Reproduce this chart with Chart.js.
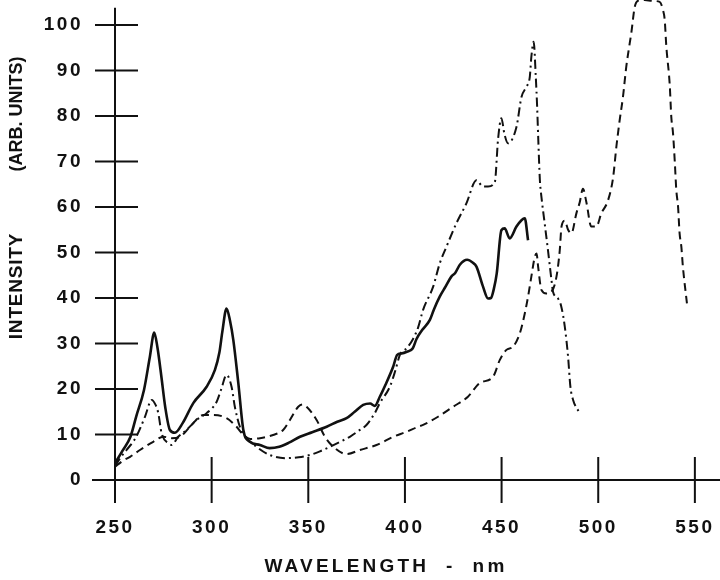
<!DOCTYPE html>
<html>
<head>
<meta charset="utf-8">
<script src="https://cdn.jsdelivr.net/npm/chart.js@4"></script>
<style>
  html, body { margin: 0; padding: 0; background: #fff; }
  #wrap { width: 720px; height: 580px; position: relative; }
</style>
</head>
<body>
<div id="wrap"><canvas id="spectra"></canvas></div>
<script>
// wavelength (nm) / intensity pairs
const solidNm = [250, 254, 258, 261, 265, 268, 270.3, 272, 274, 276, 278.4, 281, 285, 290.5, 297.4, 301.7, 304, 305.5, 307.7, 309.5, 311.2, 313.8, 316.4, 319.8, 325, 330, 335, 340, 345.7, 352, 359.5, 365, 369.8, 374, 378.4, 382, 384.4, 387, 390, 393.9, 396, 398.2, 401, 404, 406, 409, 412.9, 415, 418, 421, 424, 426, 428.4, 432.2, 435, 437, 440.4, 443, 444.5, 446, 447.5, 449.9, 451.6, 454.2, 457.7, 460.3, 462, 463.7];
const solidInt = [3.7, 6.5, 9.5, 14, 19.8, 27, 32.4, 29, 22.7, 16, 11, 10.4, 12.5, 16.9, 20.5, 24.2, 28, 32.5, 37.7, 35, 30.8, 21.3, 11, 8.4, 7.7, 7, 7.3, 8.2, 9.5, 10.5, 11.7, 12.8, 13.6, 15, 16.5, 16.8, 16.3, 18.3, 21, 24.9, 27.5, 27.8, 28.2, 28.9, 31, 33, 35.2, 37.5, 40.3, 42.5, 44.7, 45.5, 47.3, 48.4, 47.8, 46.9, 42.5, 39.9, 40, 42, 45.4, 54.9, 55.3, 53.1, 55.7, 57.1, 57.5, 52.7];

const dashDotNm = [250, 253, 256, 261, 265.5, 269, 271, 272.4, 274.1, 277.6, 279.3, 282.7, 287, 292.2, 297.4, 302.6, 305, 307.7, 310.3, 312, 314.6, 318.1, 323.2, 330, 338.8, 345, 350.8, 356, 361.2, 366, 371.5, 376, 380.1, 384.4, 387, 392.2, 395, 397.4, 401, 404.2, 406.8, 409.4, 414.6, 418, 421.5, 426.6, 431.8, 437, 440.4, 443, 446.5, 448.2, 449.9, 451.5, 453.3, 457.7, 460.3, 462.8, 464.6, 465.4, 466.6, 467.7, 468.4, 469, 469.8, 470.6, 472.3, 474, 475.8, 476.6, 479.2, 480.9, 482.7, 484.4, 485.6, 487, 490.4];
const dashDotInt = [3, 5, 6.6, 9.5, 13.9, 17.6, 16.5, 14.7, 10.3, 8.1, 7.7, 9.5, 11, 13.2, 14.7, 17.2, 20, 23.1, 20.5, 16.1, 11.7, 9.2, 7.3, 5.5, 4.8, 5, 5.5, 6.3, 7.3, 8.3, 9.5, 10.8, 12.1, 14.7, 16.9, 20.5, 24, 27.5, 29, 31, 33.5, 37.4, 42.5, 47.6, 51.3, 56.4, 60.8, 65.9, 64.5, 64.5, 65.5, 75, 79.5, 76, 74, 77.6, 84.2, 86.4, 88.6, 93, 96.3, 88.6, 82, 74.7, 66, 62.3, 56.4, 50.5, 44, 41.4, 39.9, 38.1, 33.7, 27.1, 20.5, 17.6, 14.7];

const dashNm = [250, 254, 257.8, 262.9, 269.8, 275, 279.3, 283.6, 288.8, 295.7, 300.8, 307.7, 312.9, 316.4, 320, 325, 331.8, 337, 340.5, 344.8, 347, 349.1, 354.3, 358.6, 363.8, 369.8, 376.7, 385.3, 393.9, 400.8, 406.8, 409.4, 417.1, 424.9, 432.6, 438.7, 445.6, 449.1, 452.5, 455.9, 459.4, 462, 463.7, 465.4, 467.2, 468.1, 468.9, 470.6, 473.2, 476, 478.4, 480.1, 481, 482.7, 484.4, 486.1, 488.7, 490.4, 492.1, 493.9, 496.4, 499, 501.6, 505.1, 507.7, 509.4, 511.1, 512.8, 514.5, 516.3, 517.1, 518.9, 521, 524, 528, 531.8, 533.5, 534.4, 535.2, 537, 537.8, 538.7, 539.6, 540.4, 541.3, 542.1, 543, 543.8, 545.9];
const dashInt = [2.9, 4.2, 5.1, 6.6, 8.4, 9.5, 9.2, 9.5, 11.7, 14.3, 14.3, 13.6, 11.7, 9.9, 9, 9.2, 9.9, 11, 13.2, 16.1, 16.6, 16.1, 13.2, 9.5, 7, 5.7, 6.6, 7.7, 9.5, 10.6, 11.7, 12.1, 13.9, 16.1, 18.3, 21.3, 22.7, 26.4, 28.6, 29.3, 32.2, 36.6, 40.3, 44.7, 49.1, 49.8, 46.9, 41.8, 41, 41.5, 44.7, 50.5, 55.7, 57, 55, 54.2, 58.6, 61, 64, 61, 55.7, 55.7, 58.6, 61.5, 66.5, 73.3, 79.1, 84.2, 90.8, 96, 98.2, 104, 105.4, 105.5, 105.3, 105.1, 103.3, 101.1, 95.5, 86.8, 79.8, 76.2, 70, 63.7, 60.1, 54.2, 51.3, 46.9, 38.8];

const xTickValues = [250, 300, 350, 400, 450, 500, 550];
const xTitle = 'WAVELENGTH  -  nm';
const yTitleMain = 'INTENSITY';
const yTitleUnits = '(ARB. UNITS)';

const ink = '#111';
const labelFont = { family: '"Liberation Sans", Arial, sans-serif', size: 19, weight: 'bold' };
const toPoints = (xs, ys) => xs.map((x, i) => ({ x: x, y: ys[i] }));

// axes cross through their ticks, drawn from the chart's own scales
const crossAxes = {
    id: 'crossAxes',
    beforeDraw(chart) {
        chart.ctx.letterSpacing = '2.5px';
    },
    afterDatasetsDraw(chart) {
        const { ctx, scales: { x, y } } = chart;
        const x0 = x.getPixelForValue(250);
        const y0 = y.getPixelForValue(0);
        ctx.save();
        ctx.strokeStyle = ink;
        ctx.lineWidth = 2;
        ctx.beginPath();
        ctx.moveTo(x0 - 23, y0);
        ctx.lineTo(chart.width, y0);
        ctx.moveTo(x0, y.getPixelForValue(103.8));
        ctx.lineTo(x0, y0 + 23);
        y.ticks.forEach(t => {
            const py = y.getPixelForValue(t.value);
            ctx.moveTo(x0 - 20, py);
            ctx.lineTo(x0 + 23, py);
        });
        x.ticks.forEach(t => {
            const px = x.getPixelForValue(t.value);
            ctx.moveTo(px, y0 - 23);
            ctx.lineTo(px, y0 + 23);
        });
        ctx.stroke();
        ctx.restore();
    },
    afterDraw(chart) {
        const ctx = chart.ctx;
        ctx.save();
        ctx.fillStyle = ink;
        ctx.textAlign = 'center';
        ctx.textBaseline = 'middle';
        ctx.font = 'bold 19px "Liberation Sans", Arial, sans-serif';
        ctx.letterSpacing = '3.2px';
        ctx.fillText(xTitle, 386, 567);
        // y title, rotated; the two parts sit apart as in the original
        ctx.translate(17, 0);
        ctx.rotate(-Math.PI / 2);
        ctx.letterSpacing = '0.8px';
        ctx.fillText(yTitleMain, -286, 0);
        ctx.font = 'bold 18px "Liberation Sans", Arial, sans-serif';
        ctx.letterSpacing = '0px';
        ctx.fillText(yTitleUnits, -114, 0);
        ctx.restore();
    }
};

const ctx = document.getElementById('spectra').getContext('2d');
new Chart(ctx, {
    type: 'line',
    data: {
        datasets: [
            {
                label: 'solid',
                data: toPoints(solidNm, solidInt),
                borderColor: ink,
                borderWidth: 2.6
            },
            {
                label: 'dash-dot',
                data: toPoints(dashDotNm, dashDotInt),
                borderColor: ink,
                borderWidth: 2,
                borderDash: [9, 4, 2, 4]
            },
            {
                label: 'dashed',
                data: toPoints(dashNm, dashInt),
                borderColor: ink,
                borderWidth: 2,
                borderDash: [8, 5]
            }
        ]
    },
    options: {
        responsive: true,
        maintainAspectRatio: false,
        animation: false,
        layout: { padding: 0 },
        elements: {
            point: { radius: 0 },
            line: { cubicInterpolationMode: 'monotone', fill: false }
        },
        plugins: {
            legend: { display: false },
            tooltip: { enabled: false }
        },
        scales: {
            x: {
                type: 'linear',
                min: 250,
                max: 563,
                border: { display: false },
                grid: { display: false },
                afterFit: (scale) => {
                    scale.height = 100;
                    scale.paddingLeft = 0;
                    scale.paddingRight = 0;
                },
                afterBuildTicks: (scale) => {
                    scale.ticks = xTickValues.map(v => ({ value: v }));
                },
                ticks: {
                    color: ink,
                    padding: 28,
                    autoSkip: false,
                    maxRotation: 0,
                    includeBounds: false,
                    font: labelFont
                }
            },
            y: {
                min: 0,
                max: 105.5,
                border: { display: false },
                grid: { display: false },
                afterFit: (scale) => {
                    scale.width = 115;
                    scale.paddingTop = 0;
                    scale.paddingBottom = 0;
                },
                ticks: {
                    color: ink,
                    stepSize: 10,
                    padding: 24,
                    includeBounds: false,
                    font: labelFont
                }
            }
        }
    },
    plugins: [crossAxes]
});
</script>
</body>
</html>
